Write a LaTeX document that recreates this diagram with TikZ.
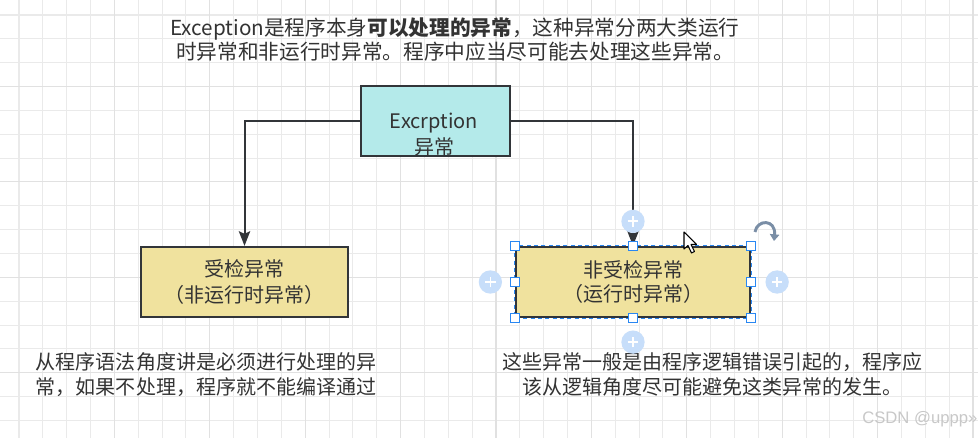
\documentclass[tikz,border=0pt]{standalone}
\usepackage{fontspec}
\setmainfont{Noto Sans CJK SC}
\newfontfamily\wmfont{Liberation Sans}
\usetikzlibrary{arrows.meta,calc}

\definecolor{gridminor}{RGB}{234,234,234}
\definecolor{gridmajor}{RGB}{225,225,225}
\definecolor{txt}{RGB}{51,51,51}
\definecolor{edge}{RGB}{50,53,57}
\definecolor{cyanfill}{RGB}{180,234,234}
\definecolor{khaki}{RGB}{240,226,158}
\definecolor{selblue}{RGB}{41,135,242}
\definecolor{plusblue}{RGB}{199,222,250}
\definecolor{rotgray}{RGB}{122,142,166}
\definecolor{wmgray}{RGB}{200,200,200}

\tikzset{
  box/.style={draw=edge, line width=1.7pt, rectangle, inner sep=0pt, text=txt},
  conn/.style={draw=edge, line width=1.5pt, -{Stealth[length=11pt,width=8.5pt,inset=2pt]}},
  note/.style={text=txt, inner sep=0pt, font=\fontsize{15}{18.75}\selectfont},
  handle/.style={draw=selblue, fill=white, line width=0.9pt, minimum size=6.5pt, inner sep=0pt, rectangle},
  plusdot/.style={circle, fill=plusblue, minimum size=17.5pt, inner sep=0pt,
    path picture={\draw[white, line width=1.3pt]
      ([xshift=-4pt]path picture bounding box.center) -- ([xshift=4pt]path picture bounding box.center)
      ([yshift=-4pt]path picture bounding box.center) -- ([yshift=4pt]path picture bounding box.center);}},
}

\begin{document}
\begin{tikzpicture}[x=0.75pt,y=-0.75pt]
\useasboundingbox (0,0) rectangle (978,438);
\fill[white] (0,0) rectangle (978,438);

% background grid
\foreach \k in {0,...,40} {
  \pgfmathsetmacro{\gx}{19+23.85*\k}
  \draw[gridminor, line width=0.8pt] (\gx,0) -- (\gx,438);
}
\foreach \k in {0,...,17} {
  \pgfmathsetmacro{\gy}{15+23.85*\k}
  \draw[gridminor, line width=0.8pt] (0,\gy) -- (978,\gy);
}
\foreach \k in {1,...,10} {
  \pgfmathsetmacro{\gx}{19+95.4*\k}
  \draw[gridmajor, line width=0.8pt] (\gx,0) -- (\gx,438);
}
\foreach \k in {0,...,3} {
  \pgfmathsetmacro{\gy}{86.55+95.4*\k}
  \draw[gridmajor, line width=0.8pt] (0,\gy) -- (978,\gy);
}

% heading text
\node[note, align=center, font=\fontsize{15.5}{18}\selectfont] (intro) at (455,40)
  {Exception是程序本身\textbf{可以处理的异常}，这种异常分两大类运行\\时异常和非运行时异常。程序中应当尽可能去处理这些异常。};

% boxes
\node[box, fill=cyanfill, minimum width=111.75pt, minimum height=52.5pt] (exc) at (435.5,121) {};
\node[note, align=center, font=\fontsize{15}{19.5}\selectfont] (exclabel) at (434,135) {Excrption\\异常};

\node[box, fill=khaki, minimum width=155.25pt, minimum height=52.5pt, align=center,
      font=\fontsize{15}{19}\selectfont] (checked) at (244.5,282) {受检异常\\（非运行时异常）};
\node[box, fill=khaki, minimum width=175.5pt, minimum height=52.5pt, align=center,
      font=\fontsize{15}{18}\selectfont] (unchecked) at (633,282) {非受检异常\\（运行时异常）};

% connectors
\draw[conn] (exc.west) -| (checked.north);
\draw[conn] (exc.east) -| (unchecked.north);

% descriptions
\node[note, align=left] (checkednote) at (206,374.5)
  {从程序语法角度讲是必须进行处理的异\\常，如果不处理，程序就不能编译通过};
\node[note, align=center] (uncheckednote) at (712,374.5)
  {这些异常一般是由程序逻辑错误引起的，程序应\\该从逻辑角度尽可能避免这类异常的发生。};

% selection of the right box
\draw[selblue, line width=0.9pt, dash pattern=on 3pt off 2.5pt]
  (unchecked.north west) rectangle (unchecked.south east);
\foreach \a in {north west,north,north east,east,south east,south,south west,west}
  \node[handle] at (unchecked.\a) {};

\node[plusdot] (addtop) at ($(unchecked.north)+(0,-24.5)$) {};
\node[plusdot] (addbottom) at ($(unchecked.south)+(0,24)$) {};
\node[plusdot] (addleft) at ($(unchecked.west)+(-24.5,0)$) {};
\node[plusdot] (addright) at ($(unchecked.east)+(26,0)$) {};

% rotate handle
\draw[rotgray, line width=2.2pt, -{Triangle[length=5pt,width=7pt]}]
  (755,232) .. controls (757,219) and (776,219) .. (774,241);

% mouse pointer
\draw[black, fill=white, line width=0.8pt, line join=round]
  (684,232) -- (684,249) -- (688,245.5) -- (691.5,253) -- (694.5,251.5) -- (691,244.5) -- (696.5,244.5) -- cycle;

% watermark
\node[anchor=west, inner sep=0pt, text=wmgray, font=\wmfont\fontsize{12.5}{14}\selectfont] (wm) at (862,419) {CSDN @uppp»};
\end{tikzpicture}
\end{document}
